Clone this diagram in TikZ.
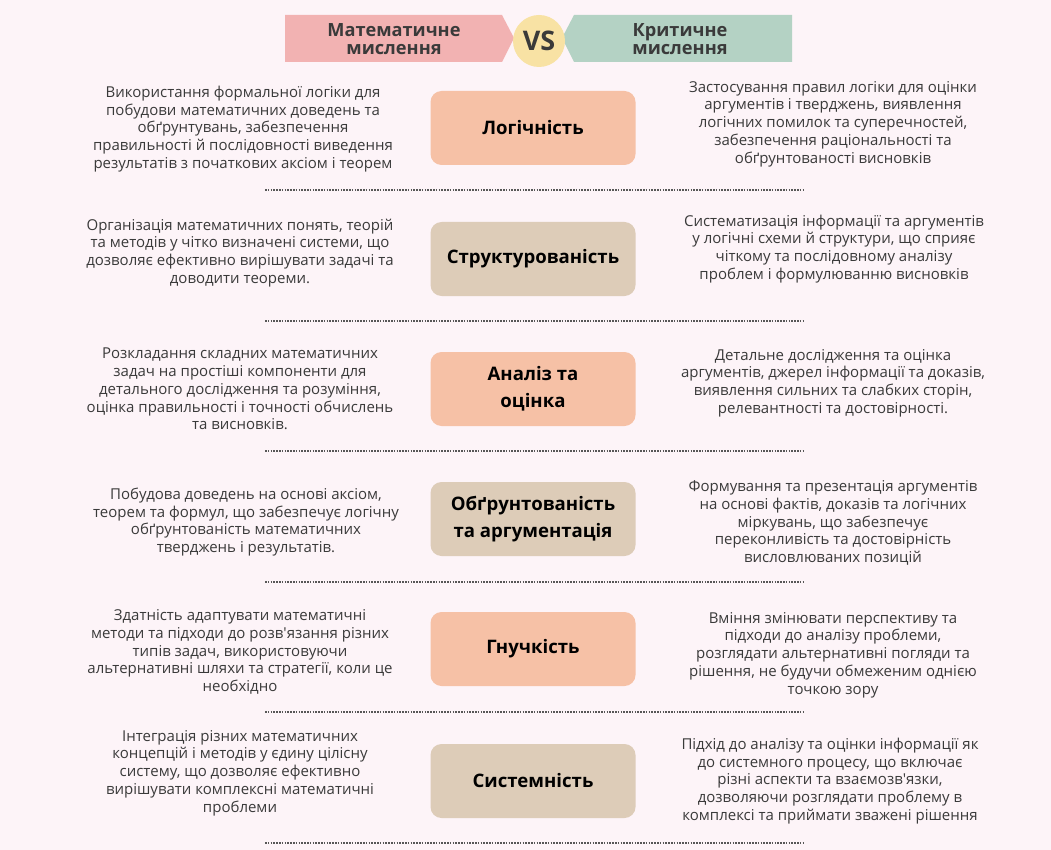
\documentclass[tikz,border=0pt]{standalone}
\usepackage{fontspec}
\setmainfont{Open Sans}
\usetikzlibrary{positioning}

\definecolor{bgpink}{HTML}{FDF4F8}
\definecolor{hpink}{HTML}{F2B2B2}
\definecolor{hgreen}{HTML}{B4D2C4}
\definecolor{vsyellow}{HTML}{F8E2A4}
\definecolor{salmon}{HTML}{F6C1A6}
\definecolor{beige}{HTML}{DDCCB8}
\definecolor{ink}{HTML}{3A3A3A}

\tikzset{
  desc/.style={align=center, text=ink, font=\fontsize{15}{17.8}\selectfont},
  keybox/.style={rounded corners=11pt, minimum width=205pt, minimum height=74pt,
    align=center, text=black, font=\bfseries\fontsize{18.6}{27}\selectfont},
  head/.style={align=center, text=ink, font=\bfseries\fontsize{18.2}{18}\selectfont},
  sep/.style={line width=1.7pt, dash pattern=on 1.5pt off 1.3pt, ink!85}
}

\begin{document}
\begin{tikzpicture}[x=1pt,y=-1pt]
        \fill[bgpink] (0,0) rectangle (1051,850);
        \useasboundingbox (0,0) rectangle (1051,850);

        % header
        \fill[hpink] (285,15) -- (502,15) -- (514,38) -- (502,62) -- (285,62) -- cycle;
        \fill[hgreen] (574,15) -- (792,15) -- (792,62) -- (574,62) -- (562,38) -- cycle;
        \fill[vsyellow] (539,41) circle (26);
        \node[head] (mat) at (394,39) {Математичне\\мислення};
        \node[head] (krit) at (680,39) {Критичне\\мислення};
        \node[text=ink, font=\bfseries\fontsize{27}{27}\selectfont] (vs) at (539,41) {VS};

        % row 1
        \node[keybox, fill=salmon] (log) at (533,128) {Логічність};
        \node[desc] (logm) at (243,129) {Використання формальної логіки для\\побудови математичних доведень та\\обґрунтувань, забезпечення\\правильності й послідовності виведення\\результатів з початкових аксіом і теорем};
        \node[desc] (logk) at (833,124) {Застосування правил логіки для оцінки\\аргументів і тверджень, виявлення\\логічних помилок та суперечностей,\\забезпечення раціональності та\\обґрунтованості висновків};
        \draw[sep] (265,190) -- (805,190);

        % row 2
        \node[keybox, fill=beige] (str) at (533,259) {Структурованість};
        \node[desc] (strm) at (240,253) {Організація математичних понять, теорій\\та методів у чітко визначені системи, що\\дозволяє ефективно вирішувати задачі та\\доводити теореми.};
        \node[desc] (strk) at (834,249) {Систематизація інформації та аргументів\\у логічні схеми й структури, що сприяє\\чіткому та послідовному аналізу\\проблем і формулюванню висновків};
        \draw[sep] (265,321) -- (805,321);

        % row 3
        \node[keybox, fill=salmon] (an) at (533,389) {Аналіз та\\оцінка};
        \node[desc] (anm) at (240,389) {Розкладання складних математичних\\задач на простіші компоненти для\\детального дослідження та розуміння,\\оцінка правильності і точності обчислень\\та висновків.};
        \node[desc] (ank) at (833,383) {Детальне дослідження та оцінка\\аргументів, джерел інформації та доказів,\\виявлення сильних та слабких сторін,\\релевантності та достовірності.};
        \draw[sep] (265,451) -- (805,451);

        % row 4
        \node[keybox, fill=beige] (obg) at (533,519) {Обґрунтованість\\та аргументація};
        \node[desc] (obgm) at (246,522) {Побудова доведень на основі аксіом,\\теорем та формул, що забезпечує логічну\\обґрунтованість математичних\\тверджень і результатів.};
        \node[desc] (obgk) at (833,523) {Формування та презентація аргументів\\на основі фактів, доказів та логічних\\міркувань, що забезпечує\\переконливість та достовірність\\висловлюваних позицій};
        \draw[sep] (265,582) -- (805,582);

        % row 5
        \node[keybox, fill=salmon] (gn) at (533,649) {Гнучкість};
        \node[desc] (gnm) at (240,652) {Здатність адаптувати математичні\\методи та підходи до розв\textquotesingle язання різних\\типів задач, використовуючи\\альтернативні шляхи та стратегії, коли це\\необхідно};
        \node[desc] (gnk) at (833,655) {Вміння змінювати перспективу та\\підходи до аналізу проблеми,\\розглядати альтернативні погляди та\\рішення, не будучи обмеженим однією\\точкою зору};
        \draw[sep] (265,712) -- (805,712);

        % row 6
        \node[keybox, fill=beige] (sys) at (533,781) {Системність};
        \node[desc] (sysm) at (240,773) {Інтеграція різних математичних\\концепцій і методів у єдину цілісну\\систему, що дозволяє ефективно\\вирішувати комплексні математичні\\проблеми};
        \node[desc] (sysk) at (830,781) {Підхід до аналізу та оцінки інформації як\\до системного процесу, що включає\\різні аспекти та взаємозв\textquotesingle язки,\\дозволяючи розглядати проблему в\\комплексі та приймати зважені рішення};
        \draw[sep] (265,843) -- (805,843);
      \end{tikzpicture}
\end{document}
